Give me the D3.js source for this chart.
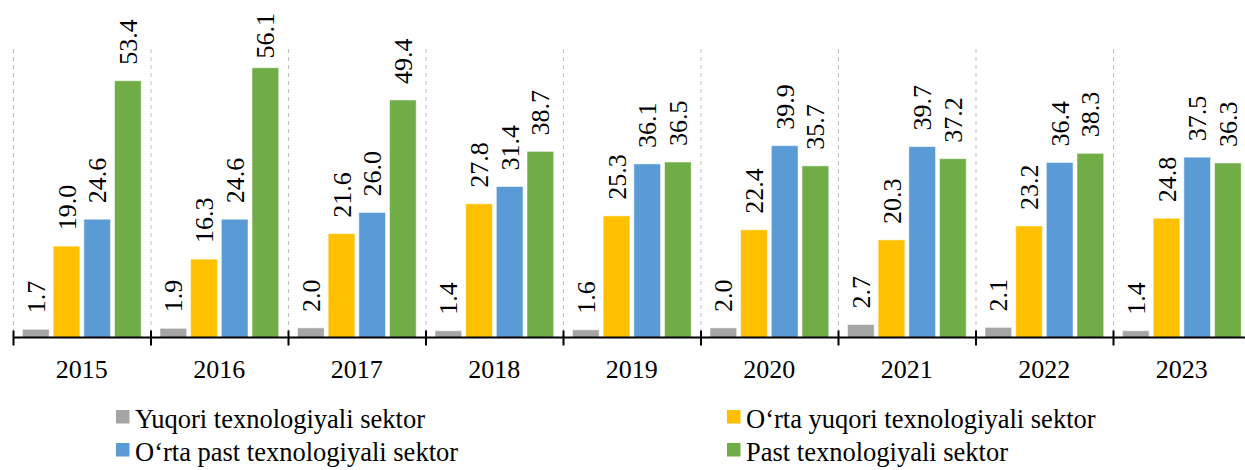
<!DOCTYPE html>
<html lang="uz">
<head>
  <meta charset="UTF-8">
  <title>Texnologik sektorlar</title>
  <style>
    body { margin: 0; background: #fff; }
    text { font-family: "Liberation Serif", "Times New Roman", Times, serif; fill: #000; }
    .grid { stroke: #bfbfbf; stroke-width: 1; stroke-dasharray: 4,4; }
    .val { font-size: 26px; }
    .tick-label { font-size: 26px; }
    .legend-text { font-size: 26.5px; }
  </style>
</head>
<body>
  <script src="https://d3js.org/d3.v7.min.js"></script>
  <script>
    const years = ["2015", "2016", "2017", "2018", "2019", "2020", "2021", "2022", "2023"];
    const seriesNames = [
      "Yuqori texnologiyali sektor",
      "O‘rta yuqori texnologiyali sektor",
      "O‘rta past texnologiyali sektor",
      "Past texnologiyali sektor"
    ];
    const colors = ["#a5a5a5", "#ffc000", "#5b9bd5", "#70ad47"];

    const high = [1.7, 1.9, 2.0, 1.4, 1.6, 2.0, 2.7, 2.1, 1.4];
    const midHigh = [19.0, 16.3, 21.6, 27.8, 25.3, 22.4, 20.3, 23.2, 24.8];
    const midLow = [24.6, 24.6, 26.0, 31.4, 36.1, 39.9, 39.7, 36.4, 37.5];
    const low = [53.4, 56.1, 49.4, 38.7, 36.5, 35.7, 37.2, 38.3, 36.3];
    const series = [high, midHigh, midLow, low];

    const width = 1245, height = 470;
    const svg = d3.select("body").append("svg").attr("width", width).attr("height", height);

    const x = d3.scaleBand().domain(years).range([13, 13 + 137.5 * years.length]);
    const xi = d3.scaleBand().domain(d3.range(4)).range([9.5, 128.2]).paddingInner(0.13);
    const y = d3.scaleLinear().domain([0, 60]).range([337.5, 49]);

    // dashed separators between years
    const bounds = years.map(d => x(d));
    svg.append("g").selectAll("line").data(bounds).join("line")
      .attr("class", "grid")
      .attr("x1", d => d + 0.5).attr("x2", d => d + 0.5)
      .attr("y1", y(60)).attr("y2", y(0));

    const cells = [];
    years.forEach((yr, i) => series.forEach((s, k) => cells.push({ yr, k, v: s[i] })));

    svg.append("g").selectAll("rect").data(cells).join("rect")
      .attr("x", d => x(d.yr) + xi(d.k))
      .attr("y", d => y(d.v))
      .attr("width", xi.bandwidth())
      .attr("height", d => y(0) - y(d.v))
      .attr("fill", d => colors[d.k])
      .attr("stroke", "#fff").attr("stroke-opacity", 0.5).attr("stroke-width", 1);

    // rotated value labels, pushed down if they would leave the top
    svg.append("g").selectAll("text").data(cells).join("text")
      .attr("class", "val")
      .text(d => d.v.toFixed(1))
      .each(function (d) {
        const len = this.getComputedTextLength();
        let base = y(d.v) - 16;
        if (base - len < 13) base = 13 + len;
        const cx = x(d.yr) + xi(d.k) + xi.bandwidth() / 2;
        d3.select(this)
          .attr("transform", `translate(${cx},${base}) rotate(-90)`)
          .attr("dy", "0.35em");
      });

    // axis
    const axis = svg.append("g");
    axis.append("line")
      .attr("x1", 13).attr("x2", width)
      .attr("y1", y(0)).attr("y2", y(0))
      .attr("stroke", "#000").attr("stroke-width", 2);
    axis.selectAll(".tk").data(bounds).join("line")
      .attr("class", "tk")
      .attr("x1", d => d + 0.5).attr("x2", d => d + 0.5)
      .attr("y1", y(0) - 7).attr("y2", y(0) + 8)
      .attr("stroke", "#000").attr("stroke-width", 2);
    axis.selectAll(".tick-label").data(years).join("text")
      .attr("class", "tick-label")
      .attr("x", d => x(d) + x.bandwidth() / 2)
      .attr("y", 378)
      .attr("text-anchor", "middle")
      .text(d => d);

    // legend
    const legendPos = [
      { x: 116, y: 428 }, { x: 727, y: 428 },
      { x: 116, y: 461 }, { x: 727, y: 461 }
    ];
    const legend = svg.append("g").selectAll("g").data(seriesNames).join("g")
      .attr("transform", (d, i) => `translate(${legendPos[i].x},${legendPos[i].y})`);
    legend.append("rect")
      .attr("x", 0).attr("y", -18).attr("width", 13.5).attr("height", 13.5)
      .attr("fill", (d, i) => colors[i]);
    legend.append("text")
      .attr("class", "legend-text")
      .attr("x", 19).attr("y", 0)
      .text(d => d);
  </script>
</body>
</html>
